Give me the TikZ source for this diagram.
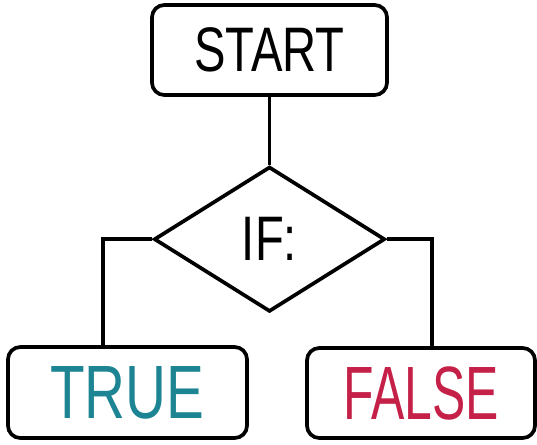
\documentclass[tikz,border=0pt]{standalone}
\usepackage{fontspec}
\usepackage{tikz}
\usetikzlibrary{shapes.geometric, positioning}

\newfontfamily\flowfont[FakeStretch=0.75]{Liberation Sans}
\newfontfamily\flowfontnarrow[FakeStretch=0.66]{Liberation Sans}
\definecolor{trueteal}{RGB}{28,132,146}
\definecolor{falsered}{RGB}{196,32,72}

\begin{document}
\begin{tikzpicture}[
    node distance=1.36cm,
    box/.style={rectangle, draw=black, line width=2.1pt, rounded corners=7pt, minimum width=4.7cm, minimum height=1.8cm, inner sep=0pt, align=center},
    decision/.style={diamond, draw=black, line width=2.1pt, minimum width=4.62cm, minimum height=2.9cm, inner sep=0pt, align=center},
    link/.style={line width=2.1pt, black}
]
    \useasboundingbox (0,0) rectangle (10.74,-8.88);

    \node (start) [box, font=\flowfont\fontsize{35.8}{40}\selectfont] at (5.39,-1.0) {START};

    \node (if) [decision, below=of start, font=\flowfont\fontsize{35.8}{40}\selectfont] {IF:};

    \node (yes) [box, minimum width=4.78cm, minimum height=1.82cm, text=trueteal, font=\flowfont\fontsize{43}{48}\selectfont] at (2.55,-7.85) {TRUE};
    \node (no) [box, minimum width=4.56cm, text=falsered, font=\flowfontnarrow\fontsize{43}{48}\selectfont] at (8.42,-7.86) {FALSE};

    \draw[link] (start) -- (if);
    \draw[link] (if.west) -| ([xshift=-0.49cm]yes.north);
    \draw[link] (if.east) -| ([xshift=0.22cm]no.north);
\end{tikzpicture}
\end{document}
